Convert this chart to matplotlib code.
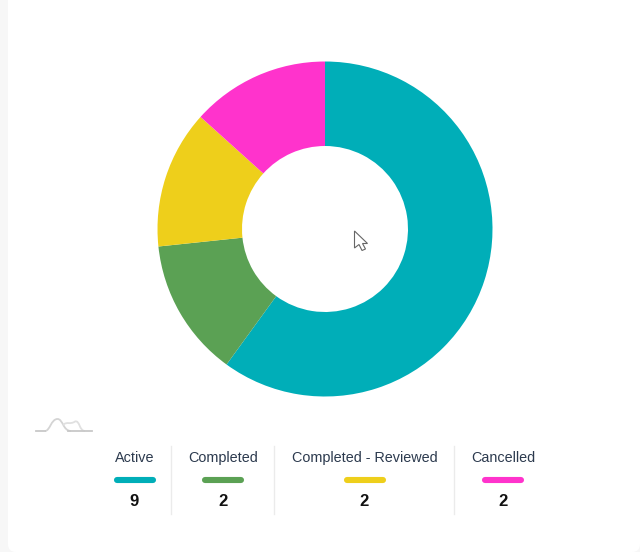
import numpy
import matplotlib
matplotlib.use('Agg')
import matplotlib.pyplot as plt
from matplotlib.patches import FancyBboxPatch, PathPatch, Polygon
from matplotlib.path import Path

labels = ['Active', 'Completed', 'Completed - Reviewed', 'Cancelled']
counts = [9, 2, 2, 2]
colors = ['#00aeb8', '#5ba154', '#eecf1b', '#ff33cc']

W, H = 640, 552
CENTER_X, CENTER_Y = 325, 229
OUTER_R, INNER_R = 167.5, 83

plt.rcParams['font.family'] = ['Liberation Sans', 'DejaVu Sans']

fig = plt.figure(figsize=(W / 100, H / 100), dpi=100, facecolor='#f7f7f7')

# page layer in pixel coordinates, y pointing down
page = fig.add_axes([0, 0, 1, 1])
page.set_xlim(0, W)
page.set_ylim(H, 0)
page.axis('off')

card = FancyBboxPatch((8, -30), W - 8, H + 30, boxstyle='round,pad=0,rounding_size=8',
                      facecolor='white', edgecolor='none')
page.add_patch(card)

## Donut
pie_ax = fig.add_axes([(CENTER_X - OUTER_R) / W, 1 - (CENTER_Y + OUTER_R) / H,
                       2 * OUTER_R / W, 2 * OUTER_R / H])
pie_ax.pie(counts, colors=colors, startangle=90, counterclock=False, radius=1.0,
           wedgeprops={'width': 1 - INNER_R / OUTER_R, 'linewidth': 0})
pie_ax.set_xlim(-1, 1)
pie_ax.set_ylim(-1, 1)

## Legend row
centers = [134.5, 223, 364.5, 503]
dividers = [171.5, 274.5, 454.5]
for label, count, color, cx in zip(labels, counts, colors, centers):
    page.text(cx, 458, label, ha='center', va='center', fontsize=10.4, color='#2c3a4e')
    page.plot([cx - 18, cx + 18], [480, 480], color=color, linewidth=4.4, solid_capstyle='round')
    page.text(cx, 502, str(count), ha='center', va='center', fontsize=12,
              fontweight='bold', color='#111111')
for x in dividers:
    page.plot([x - 0.5, x - 0.5], [446, 514], color='#ebebeb', linewidth=1.0)


def logo_stroke(verts, color):
    codes = [Path.MOVETO] + [Path.CURVE4] * (len(verts) - 1)
    page.add_patch(PathPatch(Path(verts, codes), facecolor='none', edgecolor=color, linewidth=1.3))


## Small grey logo left of the legend
page.plot([35.5, 45], [431, 431], color='#c8c8c8', linewidth=1.3)
logo_stroke([(45, 431), (50, 431), (51, 419), (57.5, 419), (63, 419), (63, 431), (71, 431)], '#d4d4d4')
logo_stroke([(63, 425), (67, 421), (70, 425), (75, 421.5), (80, 420), (79, 431), (85, 431)], '#e0e0e0')
page.plot([68, 92], [431, 431], color='#c8c8c8', linewidth=1.3)

## Mouse pointer
pointer = numpy.array([[354.5, 231], [354.5, 248], [359, 244.5], [362, 250.5], [365.5, 249],
                       [362.5, 243.5], [367.5, 243.5]])
page.add_patch(Polygon(pointer, closed=True, facecolor='white', edgecolor='#666666', linewidth=0.8, zorder=5))

fig.savefig('out.png', dpi=100, facecolor=fig.get_facecolor())
